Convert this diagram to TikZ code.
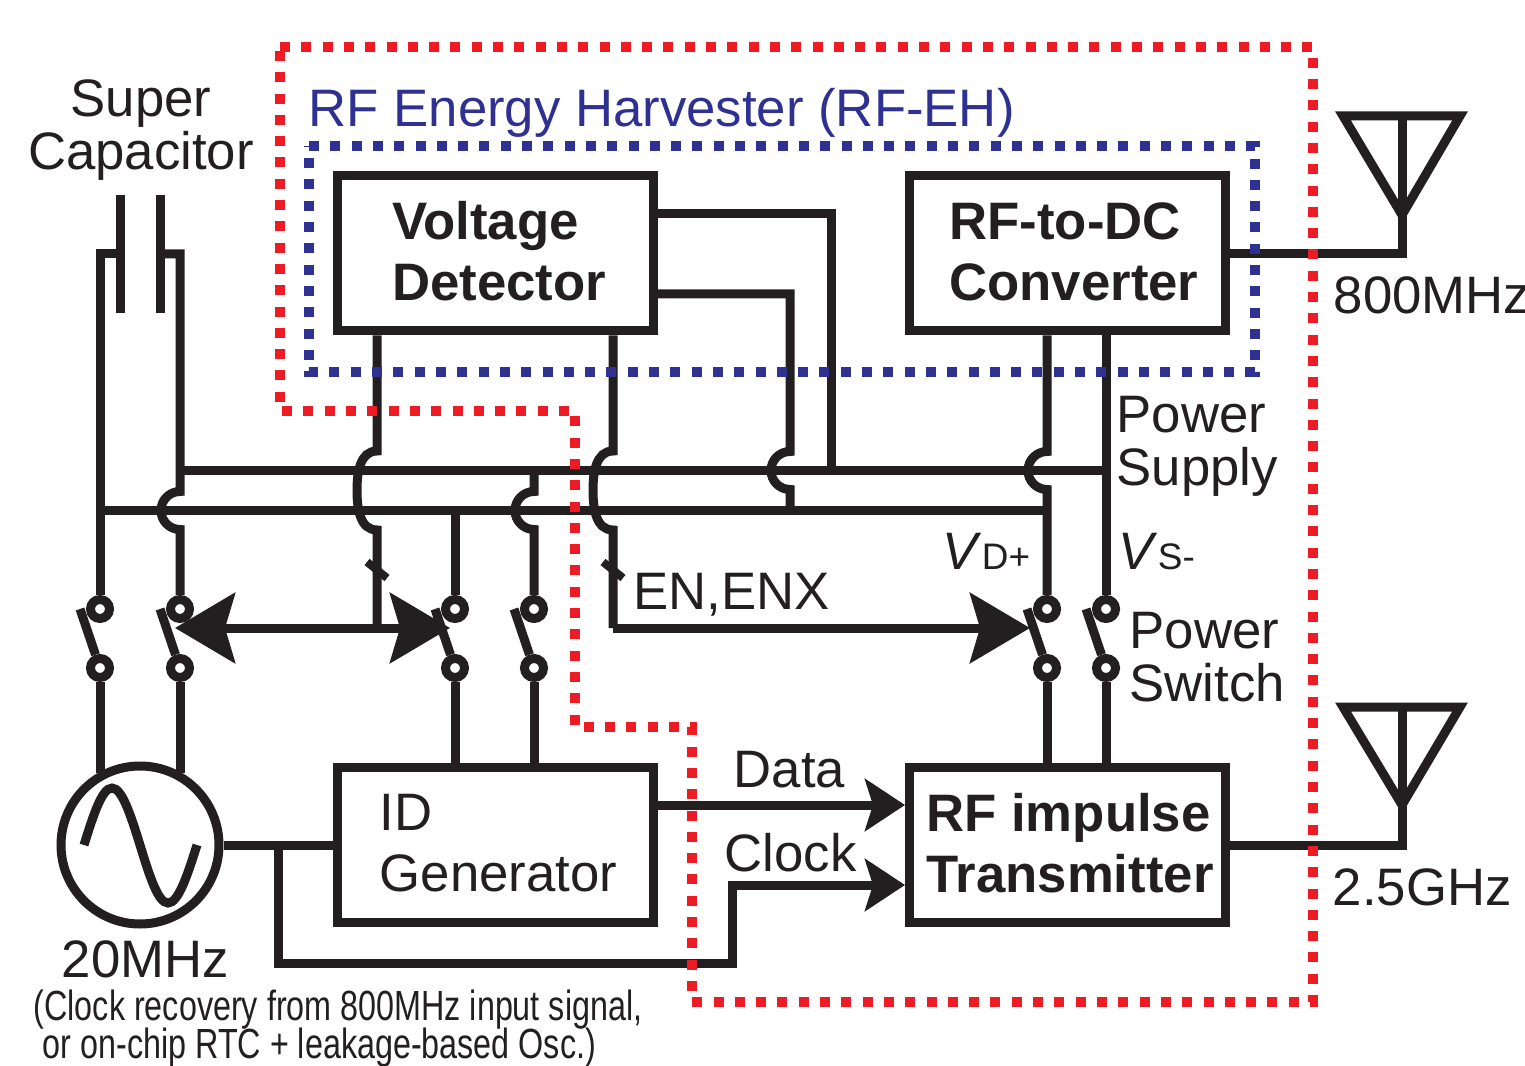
\documentclass[tikz,border=0pt]{standalone}
\usepackage{fontspec}
\setmainfont{Liberation Sans}
\newfontfamily\condfont[FakeStretch=0.766]{Liberation Sans}
\usetikzlibrary{arrows.meta}
\definecolor{inkblack}{HTML}{231F20}
\definecolor{dotred}{HTML}{ED1C24}
\definecolor{dotblue}{HTML}{2E3192}

\begin{document}
\begin{tikzpicture}[
        scale=1.0,
        >=Stealth,
        wire/.style={line width=0.09cm, draw=inkblack, line join=miter},
        block/.style={wire, minimum width=3.16cm, minimum height=1.55cm, inner sep=0pt},
        blocktext/.style={inner sep=0pt, text=inkblack, align=left, font=\fontsize{15}{17.4}\selectfont},
        term/.style={wire, circle, fill=white, minimum size=0.19cm, inner sep=0pt},
        tick/.style={line width=0.08cm, draw=inkblack},
        dots/.style={line width=0.10cm, dash pattern=on 0.10cm off 0.113cm},
        txt/.style={inner sep=0pt, text=inkblack, font=\fontsize{15}{15}\selectfont, align=left},
        note/.style={inner sep=0pt, text=inkblack, font=\condfont\fontsize{12}{12}\selectfont, anchor=base west},
        bighead/.style={-{Stealth[length=0.60cm, width=0.70cm, inset=0.10cm]}},
        bothhead/.style={{Stealth[length=0.60cm, width=0.70cm, inset=0.10cm]}-{Stealth[length=0.60cm, width=0.70cm, inset=0.10cm]}},
        smallhead/.style={-{Stealth[length=0.40cm, width=0.52cm, inset=0.08cm]}}
    ]
    \useasboundingbox (0,0) rectangle (15.25,10.65);

    % --- blocks ---
    \node[block] (vd) at (4.95,8.115) {};
    \node[block] (rfdc) at (10.67,8.115) {};
    \node[block] (idgen) at (4.95,2.20) {};
    \node[block] (tx) at (10.67,2.20) {};
    \node[blocktext] (vdtext) at (4.99,8.135) {\textbf{Voltage}\\\textbf{Detector}};
    \node[blocktext] (rfdctext) at (10.74,8.135) {\textbf{RF-to-DC}\\\textbf{Converter}};
    \node[blocktext] (idtext) at (4.985,2.22) {ID\\Generator};
    \node[blocktext] (txtext) at (10.70,2.22) {\textbf{RF impulse}\\\textbf{Transmitter}};
    \node[wire, circle, minimum size=1.58cm, inner sep=0pt] (osc) at (1.40,2.20) {};

    % --- switches ---
    \foreach \name/\xpos in {a/1.00, b/1.80, c/4.55, d/5.34, e/10.47, f/11.06} {
        \node[term] (sw\name t) at (\xpos,4.56) {};
        \node[term] (sw\name b) at (\xpos,3.97) {};
        \coordinate (sw\name o) at (\xpos-0.20,4.56);
        \draw[wire] (sw\name o) -- (sw\name b);
    }

    % --- rails ---
    \coordinate (railt) at (1.80,5.945);
    \coordinate (railb) at (1.00,5.545);
    \draw[wire] (railt) -- (railt -| swft);
    \draw[wire] (railb) -- (railb -| swet);

    % --- super capacitor ---
    \coordinate (capl) at (1.20,8.11);
    \coordinate (capr) at (1.60,8.11);
    \draw[wire] (1.20,8.70) -- (1.20,7.52);
    \draw[wire] (1.60,8.70) -- (1.60,7.52);
    \draw[wire] (capl) -| (swat);
    \draw[wire] (capr) -| (1.80,5.735) arc (90:270:0.19) -- (swbt);

    % --- lines from the voltage detector ---
    \coordinate (ena) at (3.77,4.37);
    \coordinate (enb) at (6.13,4.37);
    \coordinate (vdo) at (8.31,8.51);
    \coordinate (vdp) at (7.90,7.71);
    \draw[wire] (vd.south -| ena) -- (3.77,6.14) to[out=180,in=90] (3.57,5.75) to[out=-90,in=180] (3.77,5.35) -- (ena);
    \draw[wire] (vd.south -| enb) -- (6.13,6.14) to[out=180,in=90] (5.93,5.75) to[out=-90,in=180] (6.13,5.35) -- (enb);
    \draw[wire] (vd.east |- vdo) -- (vdo) -- (vdo |- railt);
    \draw[wire] (vd.east |- vdp) -- (vdp) -- (7.90,6.135) arc (90:270:0.19) -- (vdp |- railb);
    \draw[tick] (3.67,5.03) -- (3.87,4.87);
    \draw[tick] (6.03,5.03) -- (6.23,4.87);

    % --- enable arrows ---
    \coordinate (enl) at (1.75,4.37);
    \coordinate (enr) at (4.50,4.37);
    \coordinate (ent) at (10.30,4.37);
    \draw[wire, bothhead] (enl) -- (enr);
    \draw[wire, bighead] (enb) -- (ent);

    % --- rail drops ---
    \draw[wire] (railb -| swct) -- (swct);
    \draw[wire] (railt -| swdt) -- (5.34,5.735) arc (90:270:0.19) -- (swdt);
    \draw[wire] (rfdc.south -| swet) -- (10.47,6.135) arc (90:270:0.19) -- (swet);
    \draw[wire] (rfdc.south -| swft) -- (swft);

    % --- below the switches ---
    \draw[wire] (swab) -- (swab |- osc.120);
    \draw[wire] (swbb) -- (swbb |- osc.60);
    \draw[wire] (swcb) -- (swcb |- idgen.north);
    \draw[wire] (swdb) -- (swdb |- idgen.north);
    \draw[wire] (sweb) -- (sweb |- tx.north);
    \draw[wire] (swfb) -- (swfb |- tx.north);

    % --- oscillator ---
    \draw[wire] (0.84,2.20) sin (1.12,2.77) cos (1.40,2.20) sin (1.68,1.62) cos (1.97,2.20);
    \draw[wire] (osc) -- (idgen);

    % --- data and clock ---
    \coordinate (clka) at (2.78,2.20);
    \coordinate (clkb) at (7.32,1.02);
    \coordinate (clkc) at (9.05,1.80);
    \coordinate (dataa) at (9.05,2.60);
    \draw[wire, smallhead] (idgen.east |- dataa) -- (dataa);
    \draw[wire, smallhead] (clka) |- (clkb) |- (clkc);

    % --- antennas ---
    \coordinate (anta) at (14.02,8.115);
    \coordinate (antb) at (14.02,2.20);
    \draw[wire] (13.43,9.49) -- (14.60,9.49) -- (14.02,8.50) -- cycle;
    \draw[wire] (rfdc) -- (anta) -- (14.02,9.49);
    \draw[wire] (13.43,3.58) -- (14.60,3.58) -- (14.02,2.60) -- cycle;
    \draw[wire] (tx) -- (antb) -- (14.02,3.58);

    % --- dotted frames ---
    \draw[dots, dotred] (2.80,10.18) -- (13.13,10.18) -- (13.13,0.63) -- (6.92,0.63) -- (6.92,3.38) -- (5.75,3.38) -- (5.75,6.54) -- (2.80,6.54) -- cycle;
    \draw[dots, dotblue] (3.09,9.19) -- (12.55,9.19) -- (12.55,6.93) -- (3.09,6.93) -- cycle;

    % --- labels ---
    \node[txt, text=dotblue, anchor=base west] (ehlabel) at (3.08,9.38) {RF Energy Harvester (RF-EH)};
    \node[txt, align=center] (caplabel) at (1.41,9.35) {Super\\Capacitor};
    \node[txt, anchor=base west] (hzhigh) at (13.33,7.51) {800MHz};
    \node[txt, anchor=base west] (hzlow) at (13.32,1.60) {2.5GHz};
    \node[txt, anchor=west] (supply) at (11.16,6.19) {Power\\Supply};
    \node[txt, anchor=west] (switch) at (11.29,4.08) {Power\\Switch};
    \node[txt, anchor=base west] (vdplus) at (9.42,4.95) {\textit{V}\fontsize{10.5}{10.5}\selectfont D+};
    \node[txt, anchor=base west] (vsminus) at (11.18,4.95) {\textit{V}\fontsize{10.5}{10.5}\selectfont S-};
    \node[txt, anchor=base west] (enlabel) at (6.33,4.56) {EN,ENX};
    \node[txt, anchor=base west] (datalabel) at (7.33,2.78) {Data};
    \node[txt, anchor=base west] (clklabel) at (7.24,1.94) {Clock};
    \node[txt, anchor=base west] (osclabel) at (0.61,0.88) {20MHz};
    \node[note] (notea) at (0.33,0.45) {(Clock recovery from 800MHz input signal,};
    \node[note] (noteb) at (0.42,0.07) {or on-chip RTC + leakage-based Osc.)};

\end{tikzpicture}
\end{document}
